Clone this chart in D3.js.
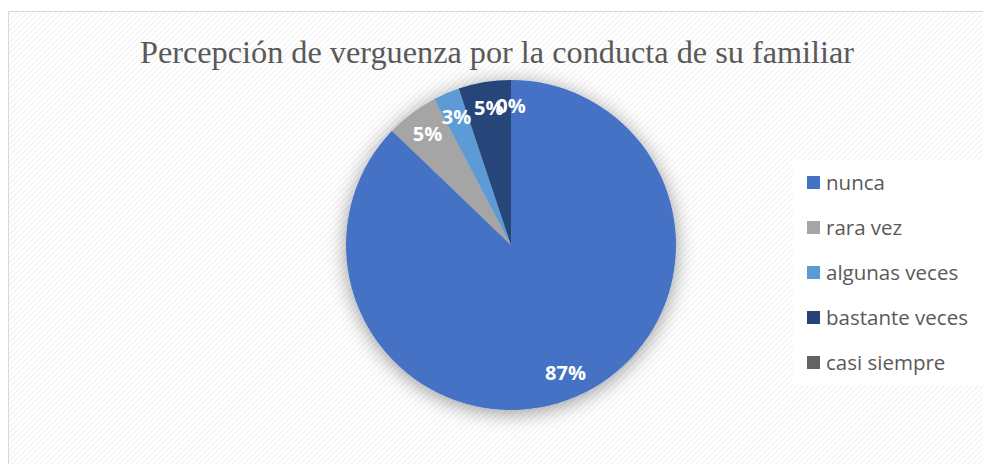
<!DOCTYPE html>
<html>
<head>
<meta charset="utf-8">
<script src="https://cdn.jsdelivr.net/npm/d3@7"></script>
<style>
  body { margin: 0; background: #fff; }
</style>
</head>
<body>
<script>
const categories = ["nunca", "rara vez", "algunas veces", "bastante veces", "casi siempre"];
const counts = [34, 2, 1, 2, 0];
const labels = ["87%", "5%", "3%", "5%", "0%"];
const colors = ["#4472C4", "#A5A5A5", "#5B9BD5", "#264478", "#636363"];

function main(){
    const width = 983;
    const height = 464;

    const svg = d3.select("body").append("svg")
        .attr("width", width)
        .attr("height", height);

    const defs = svg.append("defs");

    // faint diagonal stripes like the office chart area fill
    const pat = defs.append("pattern")
        .attr("id", "stripes")
        .attr("width", 4).attr("height", 4)
        .attr("patternUnits", "userSpaceOnUse")
        .attr("patternTransform", "rotate(45)");
    pat.append("rect").attr("width", 4).attr("height", 4).attr("fill", "#ffffff");
    pat.append("line").attr("x1", 0).attr("y1", 0).attr("x2", 0).attr("y2", 4)
        .attr("stroke", "#ececec").attr("stroke-width", 1.5);

    const shadow = defs.append("filter")
        .attr("id", "shadow")
        .attr("x", "-30%").attr("y", "-30%").attr("width", "160%").attr("height", "160%");
    shadow.append("feGaussianBlur").attr("in", "SourceAlpha").attr("stdDeviation", 10).attr("result", "blur");
    shadow.append("feOffset").attr("dx", 0).attr("dy", 3).attr("result", "off");
    shadow.append("feComponentTransfer").append("feFuncA").attr("type", "linear").attr("slope", 0.4);
    const merge = shadow.append("feMerge");
    merge.append("feMergeNode");
    merge.append("feMergeNode").attr("in", "SourceGraphic");

    // chart area
    svg.append("rect")
        .attr("x", 8.5).attr("y", 11.5)
        .attr("width", width).attr("height", height)
        .attr("fill", "url(#stripes)")
        .attr("stroke", "#d9d9d9");

    //title
    svg.append("text")
        .attr("x", 497)
        .attr("y", 63)
        .attr("text-anchor", "middle")
        .attr("font-family", "'Liberation Serif', 'Times New Roman', serif")
        .attr("font-size", "32px")
        .attr("textLength", 714)
        .attr("lengthAdjust", "spacingAndGlyphs")
        .attr("fill", "#595959")
        .text("Percepción de verguenza por la conducta de su familiar");

    const cx = 511, cy = 245, r = 165;

    const pie = d3.pie().sort(null).value(d => d);
    const arcs = pie(counts);
    const arc = d3.arc().innerRadius(0).outerRadius(r);
    const labelArc = d3.arc().innerRadius(139).outerRadius(139);

    const g = svg.append("g")
        .attr("transform", "translate(" + cx + "," + cy + ")");

    g.append("g").attr("filter", "url(#shadow)")
        .selectAll("path")
        .data(arcs)
        .enter().append("path")
        .attr("d", arc)
        .attr("fill", (d, i) => colors[i]);

    g.selectAll(".lbl")
        .data(arcs)
        .enter().append("text")
        .attr("class", "lbl")
        .attr("transform", d => "translate(" + labelArc.centroid(d) + ")")
        .attr("text-anchor", "middle")
        .attr("dy", "0.35em")
        .attr("font-family", "'Open Sans', 'Liberation Sans', sans-serif")
        .attr("font-weight", "bold")
        .attr("font-size", "20px")
        .attr("fill", "#ffffff")
        .text((d, i) => labels[i]);

    //legend
    const legend = svg.append("g");
    legend.append("rect")
        .attr("x", 793).attr("y", 160)
        .attr("width", 190).attr("height", 225)
        .attr("fill", "#ffffff");

    const rows = legend.selectAll(".row")
        .data(categories)
        .enter().append("g")
        .attr("class", "row")
        .attr("transform", (d, i) => "translate(807," + (183 + i * 45) + ")");
    rows.append("rect")
        .attr("x", 0).attr("y", -7)
        .attr("width", 13).attr("height", 13)
        .attr("fill", (d, i) => colors[i]);
    rows.append("text")
        .attr("x", 19)
        .attr("dy", "0.35em")
        .attr("font-family", "'Open Sans', 'Liberation Sans', sans-serif")
        .attr("font-size", "20.5px")
        .attr("fill", "#595959")
        .text(d => d);
}
main();
</script>
</body>
</html>
